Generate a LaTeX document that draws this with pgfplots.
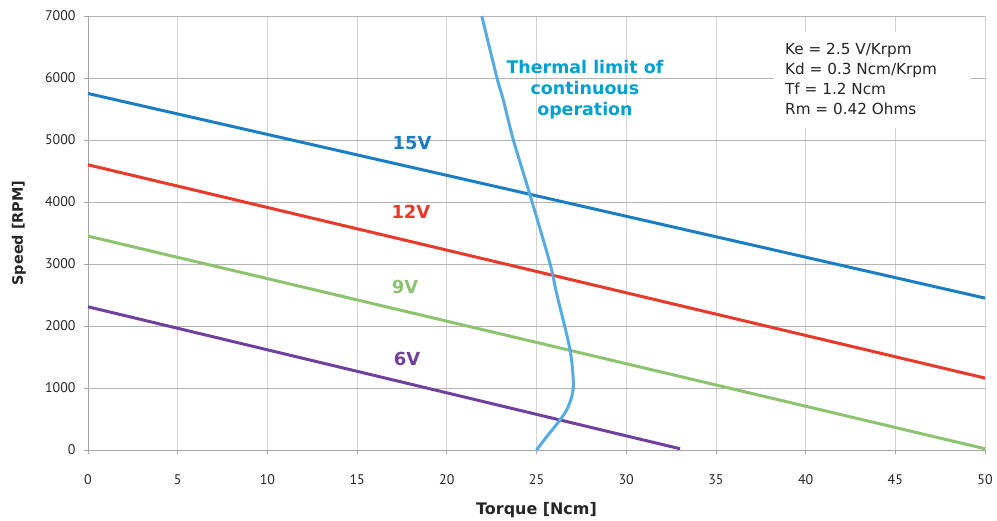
\documentclass[border=0pt]{standalone}
\usepackage{pgfplots}
\pgfplotsset{compat=1.18}
\usepackage{fontspec}
\setmainfont{PT Sans}
\newfontfamily\dejavu{DejaVu Sans}
\definecolor{c15}{RGB}{27,125,196}
\definecolor{c12}{RGB}{232,57,42}
\definecolor{c9}{RGB}{141,194,111}
\definecolor{c6}{RGB}{112,64,160}
\definecolor{cth}{RGB}{86,172,226}
\definecolor{cthtxt}{RGB}{0,160,210}
\definecolor{gridx}{RGB}{212,212,212}
\definecolor{gridy}{RGB}{180,180,180}
\definecolor{axc}{RGB}{165,165,165}
\begin{document}
\begin{tikzpicture}[x=1bp,y=1bp]
\path[use as bounding box] (-88,-71) rectangle (909,450);
\begin{axis}[
  anchor=south west, at={(0,0)},
  scale only axis, width=897bp, height=434bp,
  xmin=0, xmax=50, ymin=0, ymax=7000,
  xtick={0,5,...,50}, ytick={0,1000,...,7000},
  grid=major, major grid style={line width=0.8pt},
  x grid style={gridx}, y grid style={gridy},
  axis line style={axc, line width=0.8pt},
  axis x line*=bottom, axis y line*=left,
  tick style={axc, line width=0.8pt}, tick align=outside, major tick length=4bp,
  /pgf/number format/assume math mode=true,
  /pgf/number format/1000 sep={},
  tick label style={font=\fontsize{14}{16}\selectfont, text=black!85},
  xticklabel style={yshift=-17bp},
  yticklabel style={xshift=-5bp},
  xlabel={Torque [Ncm]}, ylabel={Speed [RPM]},
  xlabel style={font=\dejavu\bfseries\fontsize{16}{18}\selectfont, text=black!85, at={(axis description cs:0.5,0)}, anchor=base, yshift=-65bp},
  ylabel style={font=\dejavu\bfseries\fontsize{14.5}{16}\selectfont, text=black!85, at={(axis description cs:0,0.5)}, anchor=base, yshift=65bp},
  clip=false,
]
\addplot[c15, line width=3bp] coordinates {(0,5750) (50,2450)};
\addplot[c12, line width=3bp] coordinates {(0,4600) (50,1160)};
\addplot[c9, line width=3bp] coordinates {(0,3450) (50,20)};
\addplot[c6, line width=3bp] coordinates {(0,2310) (33,20)};
\addplot[cth, line width=3bp, smooth, tension=0.5] coordinates {
(21.95,7000) (22.78,6021) (23.15,5645) (23.71,5000) (24.64,4113) (25.75,3011) (26.12,2527) (26.87,1613) (27.05,1021) (26.77,699) (26.31,484) (25.57,215) (25.0,0)};
\node[c15, font=\dejavu\bfseries\fontsize{18}{20}\selectfont] at (axis cs:18.06,4952) {15V};
\node[c12, font=\dejavu\bfseries\fontsize{18}{20}\selectfont] at (axis cs:18.0,3839) {12V};
\node[c9, font=\dejavu\bfseries\fontsize{18}{20}\selectfont] at (axis cs:17.67,2629) {9V};
\node[c6, font=\dejavu\bfseries\fontsize{18}{20}\selectfont] at (axis cs:17.78,1468) {6V};
\node[cthtxt, font=\dejavu\bfseries\fontsize{17.5}{21}\selectfont, align=center] at (axis cs:27.7,5807) {Thermal limit of\\continuous\\operation};
\node[fill=white, inner sep=0pt, minimum width=197bp, minimum height=96bp, anchor=north west] at (axis cs:38.2,6740) {};
\node[font=\dejavu\fontsize{15.3}{20.3}\selectfont, align=left, anchor=north west, inner sep=0pt, text=black!85] at (axis cs:38.85,6570) {Ke = 2.5 V/Krpm\\Kd = 0.3 Ncm/Krpm\\Tf = 1.2 Ncm\\Rm = 0.42 Ohms};
\end{axis}
\end{tikzpicture}
\end{document}
